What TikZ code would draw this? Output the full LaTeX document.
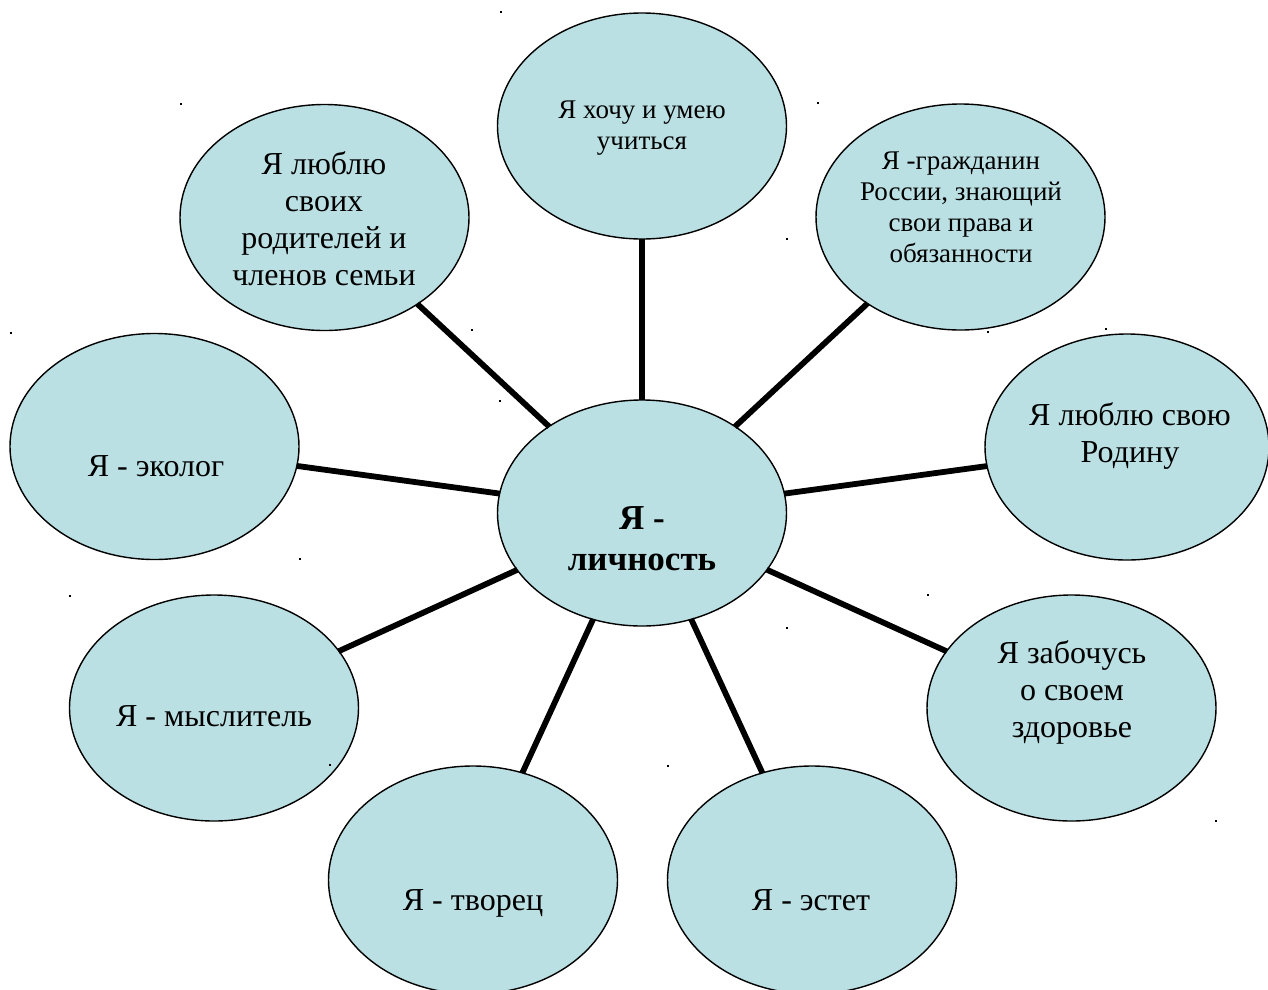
\documentclass[tikz,border=0pt]{standalone}
\usepackage{fontspec}
\setmainfont{Liberation Serif}
\usetikzlibrary{shapes.geometric}
\definecolor{bubble}{RGB}{186,224,227}
\tikzset{
  bub/.style={ellipse, draw=black, line width=1.4pt, fill=bubble, minimum width=289pt, minimum height=226pt, inner sep=0pt},
  link/.style={line width=5.8pt, black},
  bigtxt/.style={align=center, font=\fontsize{32}{37}\selectfont, inner sep=0pt},
  smalltxt/.style={align=center, font=\fontsize{27}{31}\selectfont, inner sep=0pt},
  ctrtxt/.style={align=center, font=\fontsize{35}{41}\selectfont\bfseries, inner sep=0pt},
  speck/.style={fill=black, inner sep=0pt, minimum size=2.4pt, rectangle}
}
\begin{document}
\begin{tikzpicture}[x=1pt,y=-1pt]
\useasboundingbox (0,0) rectangle (1268,989);
\node[bub] (c) at (642,513) {};
\node[bub] (t) at (642,126) {};
\node[bub] (tl) at (324.5,217.5) {};
\node[bub] (tr) at (960.5,217) {};
\node[bub, minimum width=284pt] (r) at (1127,447) {};
\node[bub] (l) at (154.5,446.5) {};
\node[bub] (ll) at (214,708) {};
\node[bub] (lr) at (1071.5,708) {};
\node[bub, minimum height=228pt] (bl) at (473,880) {};
\node[bub, minimum height=228pt] (br) at (812,880) {};
\foreach \o in {t,tl,tr,r,l,ll,lr,bl,br} {\draw[link, shorten <=-1pt, shorten >=-1pt] (c) -- (\o);}
% texts
\node[ctrtxt] (ct) at (642,539) {Я -\\личность};
\node[smalltxt] (tt) at (642,128) {Я хочу и умею\\учиться};
\node[bigtxt] (tlt) at (324,219) {Я люблю\\своих\\родителей и\\членов семьи};
\node[smalltxt] (trt) at (961,207) {Я -гражданин\\России, знающий\\свои права и\\обязанности};
\node[bigtxt] (rt) at (1130,436) {Я люблю свою\\Родину};
\node[bigtxt] (lt) at (156,466) {Я - эколог};
\node[bigtxt] (llt) at (214,716) {Я - мыслитель};
\node[bigtxt] (lrt) at (1072,692) {Я забочусь\\о своем\\здоровье};
\node[bigtxt, anchor=base] (blt) at (473,910) {Я - творец};
\node[bigtxt, anchor=base] (brt) at (811,910) {Я - эстет};
% stray specks
\foreach \p [count=\i] in {(501,12),(181,104),(818,103),(787,239),(11,333),(472,330),(988,332),(1106,329),(500,401),(300,559),(70,596),(928,595),(787,628),(330,765),(668,766),(1216,821)}
  \node[speck] (s\i) at \p {};
\end{tikzpicture}
\end{document}
